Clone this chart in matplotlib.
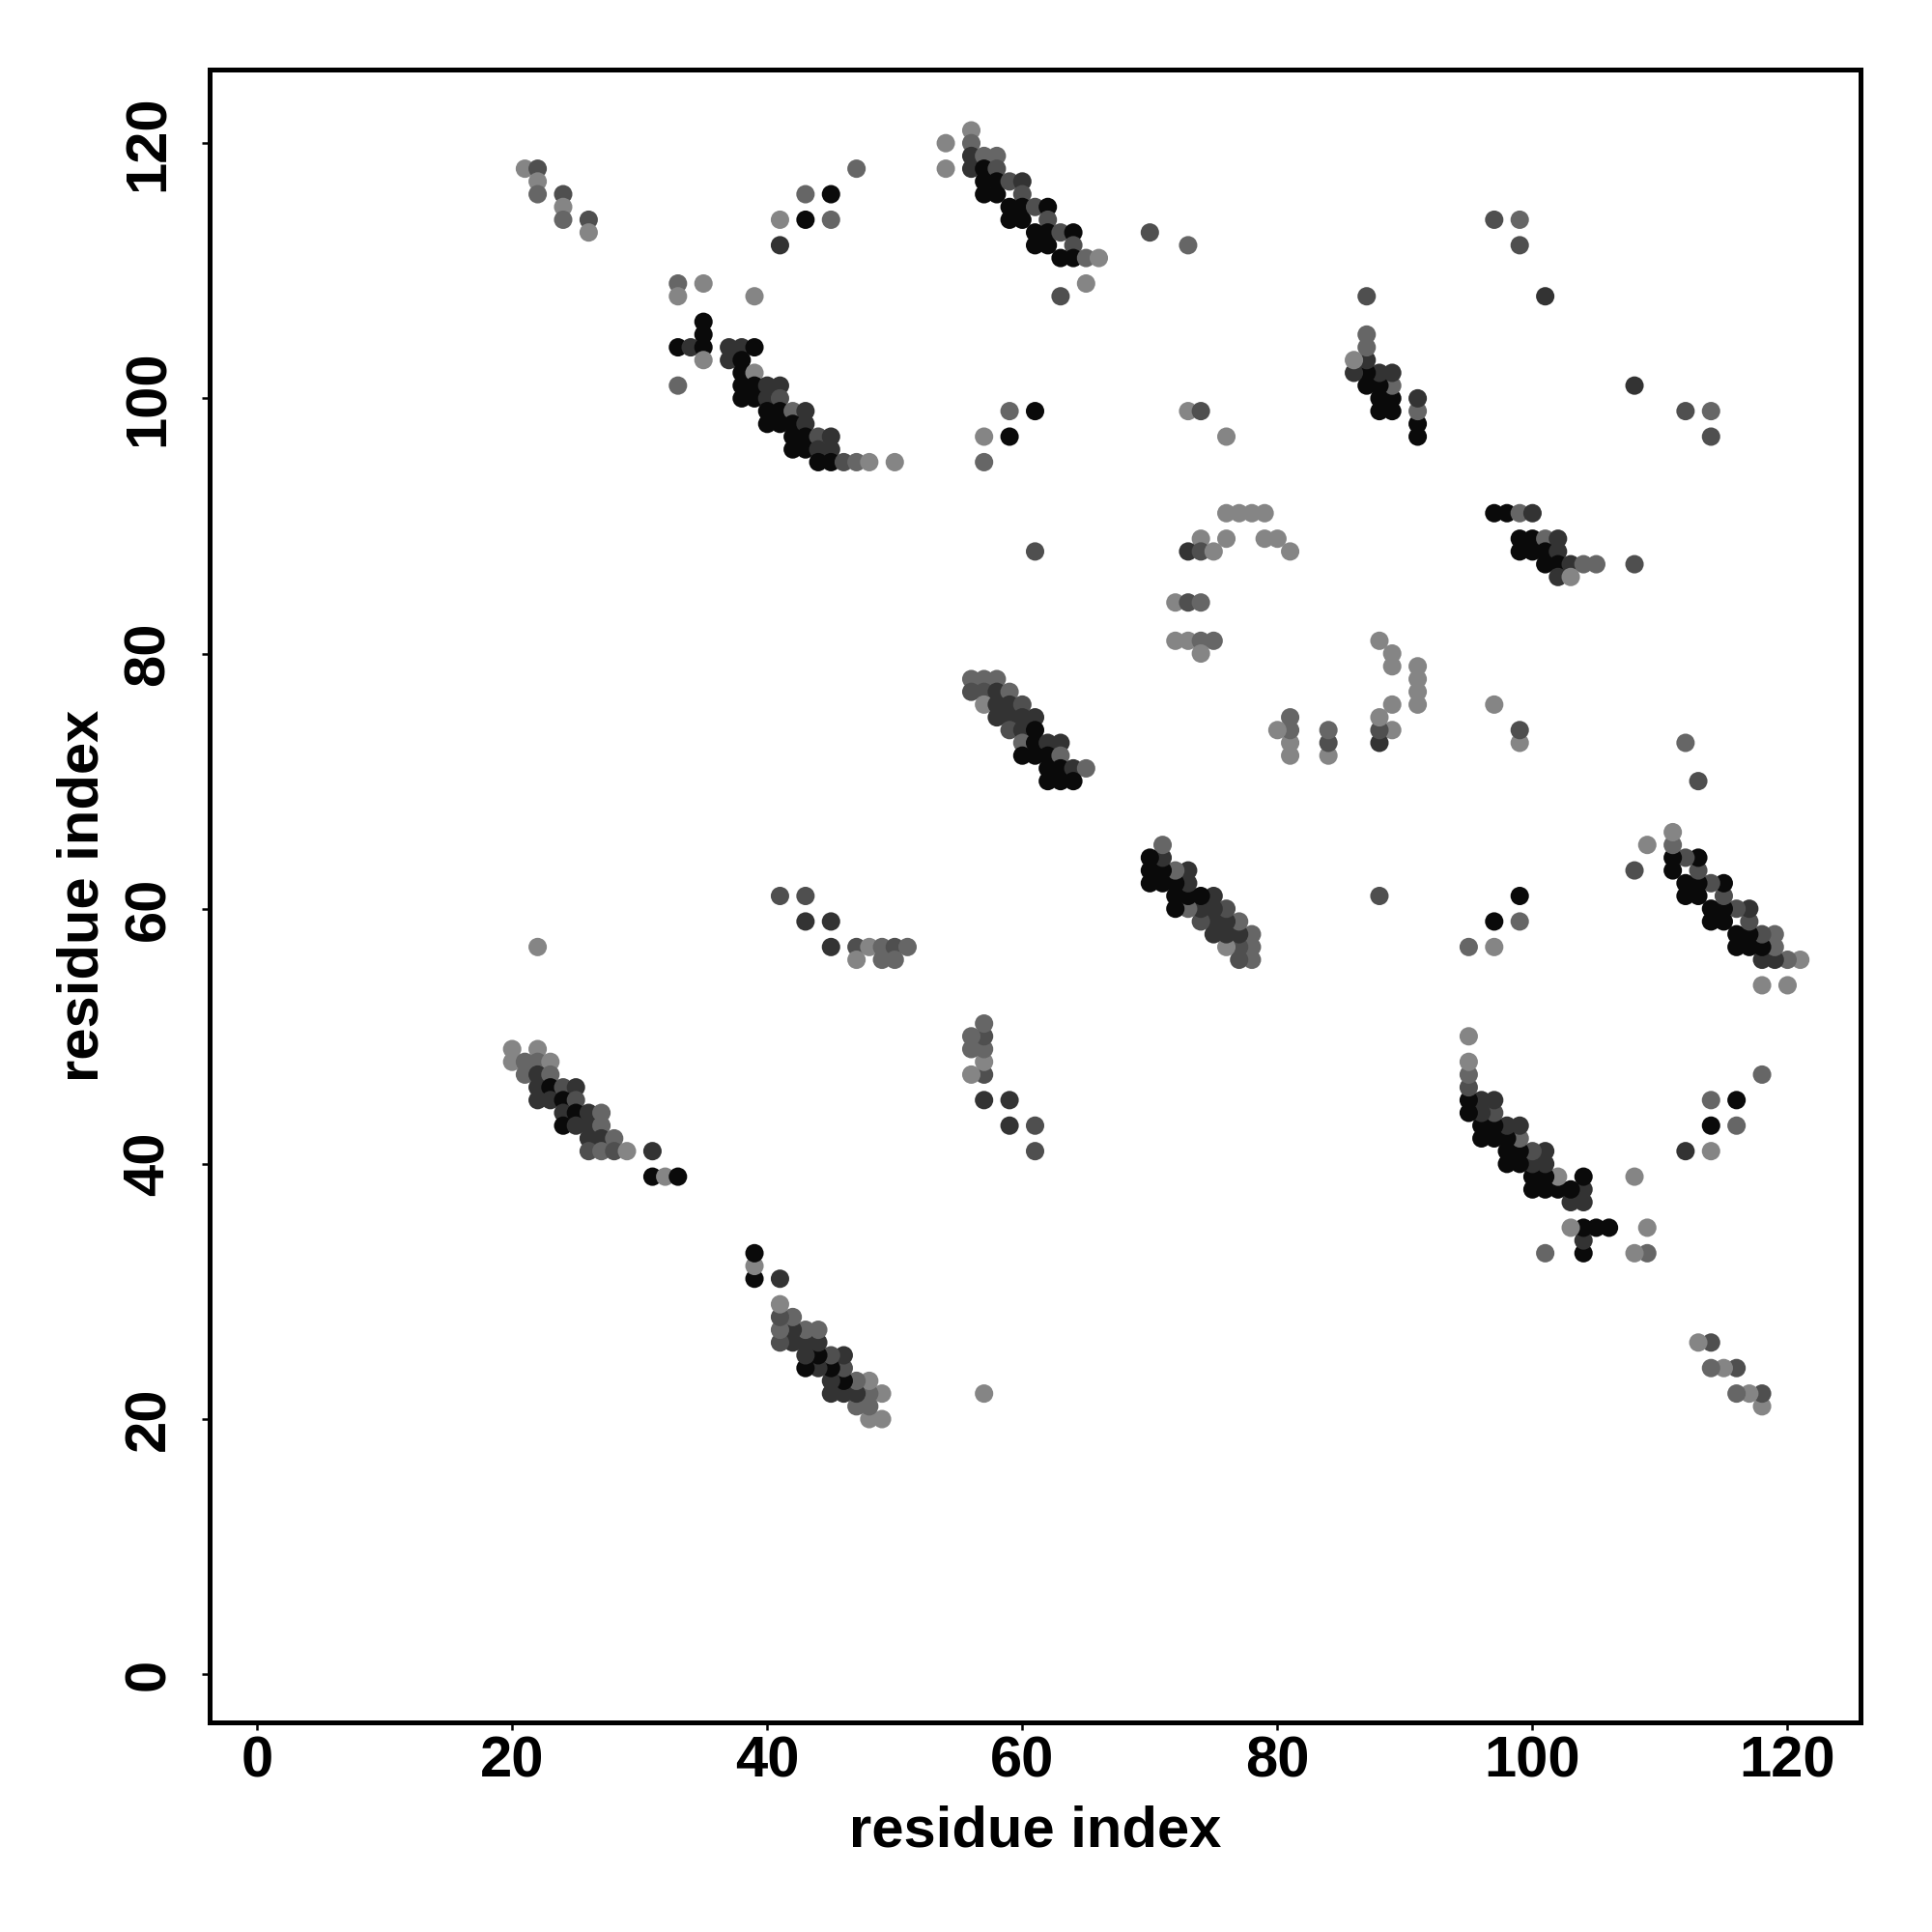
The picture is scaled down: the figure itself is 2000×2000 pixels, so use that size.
import matplotlib
matplotlib.use("Agg")
import matplotlib.pyplot as plt

plt.rcParams['font.family'] = ['Liberation Sans', 'DejaVu Sans']
plt.rcParams['font.weight'] = 'bold'

# contacts read off the upper triangle (i < j); the map is symmetric
# shade: 0 = black ... 4 = light grey
res_i = [
    # top-left corner
    21, 22, 22, 22, 24, 24, 24, 26, 26,
    47, 43, 45, 41, 43, 45, 41,
    # band 33-50 / 95-109
    33, 33, 35, 39, 35, 35, 33, 34, 35, 35, 33,
    37, 38, 39, 37, 38, 38, 39,
    38, 39, 40, 41, 38, 39, 40, 41,
    40, 41, 42, 43, 40, 41, 42, 43,
    42, 43, 44, 45, 42, 43, 44, 45,
    44, 45, 46, 47, 48, 50,
    # band 54-66 / 108-121
    56, 54, 56, 54, 56, 56, 57, 58, 57, 58, 57, 57, 58, 58, 59, 60, 60,
    59, 59, 60, 60, 61, 62, 62, 61, 61, 62, 62, 63, 64, 64, 63, 64, 65, 66,
    65, 63, 70, 73,
    # band 56-65 / 70-78
    56, 57, 58, 56, 57, 58, 59, 57, 58, 59, 60, 58, 59, 60, 61,
    59, 60, 61, 60, 61, 62, 63, 60, 61, 62, 63, 62, 63, 64, 65, 62, 63, 64,
    # 72-81 / 80-91
    72, 73, 74, 72, 73, 74, 75, 74,
    74, 76, 79, 80, 81, 73, 74, 75, 76, 77, 78, 79,
    # 86-91 / 97-108
    91, 91, 91, 91, 89, 89, 89, 89, 88, 88, 88, 88,
    87, 87, 87, 87, 87, 87, 86, 86,
    # scattered
    97, 99, 99, 101,
    59, 61, 57, 59, 57, 61,
    73, 74, 76,
    22,
    41, 43, 43, 45, 45, 47, 48, 49, 50, 51, 47, 49, 50,
    # band 20-33 / 39-49
    20, 22, 20, 21, 22, 23, 21, 22, 23, 22, 23, 24, 25, 22, 23, 24, 25,
    24, 25, 26, 27, 24, 25, 26, 27, 26, 27, 28, 26, 27, 28, 29, 31,
    31, 32, 33,
]
res_j = [
    118, 118, 117, 116, 116, 115, 114, 114, 113,
    118, 116, 116, 114, 114, 114, 112,
    109, 108, 109, 108, 106, 105, 104, 104, 104, 103, 101,
    104, 104, 104, 103, 103, 102, 102,
    101, 101, 101, 101, 100, 100, 100, 100,
    99, 99, 99, 99, 98, 98, 98, 98,
    97, 97, 97, 97, 96, 96, 96, 96,
    95, 95, 95, 95, 95, 95,
    121, 120, 120, 118, 119, 118, 119, 119, 118, 118, 117, 116, 117, 116, 117, 117, 116,
    115, 114, 115, 114, 115, 115, 114, 113, 112, 113, 112, 113, 113, 112, 111, 111, 111, 111,
    109, 108, 113, 112,
    78, 78, 78, 77, 77, 77, 77, 76, 76, 76, 76, 75, 75, 75, 75,
    74, 74, 74, 73, 73, 73, 73, 72, 72, 72, 72, 71, 71, 71, 71, 70, 70, 70,
    84, 84, 84, 81, 81, 81, 81, 80,
    89, 89, 89, 89, 88, 88, 88, 88, 91, 91, 91, 91,
    97, 98, 99, 100, 99, 100, 101, 102, 99, 100, 101, 102,
    101, 102, 103, 104, 105, 108, 102, 103,
    114, 114, 112, 108,
    99, 99, 97, 97, 95, 88,
    99, 99, 97,
    57,
    61, 61, 59, 59, 57, 57, 57, 57, 57, 57, 56, 56, 56,
    49, 49, 48, 48, 48, 48, 47, 47, 47, 46, 46, 46, 46, 45, 45, 45, 45,
    44, 44, 44, 44, 43, 43, 43, 43, 42, 42, 42, 41, 41, 41, 41, 41,
    39, 39, 39,
]
shade = [
    4, 2, 4, 3, 2, 4, 3, 2, 4,
    3, 3, 0, 4, 0, 3, 1,
    3, 4, 4, 4, 0, 0, 0, 1, 0, 4, 3,
    1, 1, 0, 1, 0, 0, 4,
    0, 0, 1, 1, 0, 0, 1, 2,
    0, 0, 3, 1, 0, 0, 0, 1,
    0, 0, 2, 1, 0, 0, 1, 1,
    0, 0, 2, 3, 4, 4,
    4, 4, 3, 4, 1, 1, 3, 3, 0, 2, 0, 0, 0, 0, 2, 1, 2,
    0, 0, 0, 0, 2, 0, 2, 0, 0, 0, 0, 2, 0, 2, 0, 0, 3, 4,
    4, 2, 2, 3,
    3, 3, 3, 2, 2, 1, 3, 4, 1, 1, 2, 1, 1, 1, 1,
    2, 1, 0, 3, 0, 1, 1, 0, 0, 0, 3, 0, 0, 1, 3, 0, 0, 0,
    4, 2, 3, 4, 4, 3, 3, 4,
    4, 4, 4, 4, 4, 1, 2, 4, 4, 4, 4, 4,
    0, 0, 3, 1, 0, 0, 3, 1, 0, 0, 0, 1,
    0, 0, 1, 3, 3, 2, 1, 4,
    2, 3, 2, 1,
    3, 0, 4, 0, 3, 2,
    4, 2, 4,
    4,
    2, 2, 1, 1, 1, 2, 4, 3, 2, 3, 4, 3, 3,
    4, 4, 4, 3, 3, 4, 3, 1, 3, 1, 0, 2, 1, 1, 1, 0, 2,
    1, 0, 1, 3, 0, 1, 1, 3, 1, 1, 3, 2, 3, 2, 4, 1,
    0, 4, 0,
]
grey_levels = ['0.04', '0.2', '0.31', '0.4', '0.52']

xs = res_i + res_j
ys = res_j + res_i
cols = [grey_levels[s] for s in shade] * 2

fig = plt.figure(figsize=(10, 10), dpi=200)
ax = fig.add_axes([217 / 2000, 1 - 1783 / 2000, (1926 - 217) / 2000, (1783 - 72) / 2000])

ax.scatter(xs, ys, s=47, c=cols, linewidths=0)

ax.set_xlim(-3.72, 125.72)
ax.set_ylim(-3.77, 125.77)
ticks = [0, 20, 40, 60, 80, 100, 120]
ax.set_xticks(ticks)
ax.set_yticks(ticks)
ax.set_xticklabels([str(t) for t in ticks])
ax.set_yticklabels([str(t) for t in ticks])
for sp in ax.spines.values():
    sp.set_linewidth(1.8)
ax.tick_params(axis='both', length=2.9, width=0.9, labelsize=21.5)
ax.tick_params(axis='x', pad=17.6)
ax.tick_params(axis='y', pad=14)
for lab in ax.get_xticklabels():
    lab.set_va('baseline')
    lab.set_fontweight('bold')
for lab in ax.get_yticklabels():
    lab.set_rotation(90)
    lab.set_rotation_mode('anchor')
    lab.set_ha('center')
    lab.set_va('baseline')
    lab.set_fontweight('bold')

fig.text(1071.5 / 2000, 1 - 1911 / 2000, 'residue index', ha='center', va='baseline',
         fontsize=21.5, fontweight='bold')
fig.text(102 / 2000, 1 - 927.5 / 2000, 'residue index', ha='center', va='baseline',
         rotation=90, rotation_mode='anchor', fontsize=21.5, fontweight='bold')

fig.savefig('out.png', dpi=200)
